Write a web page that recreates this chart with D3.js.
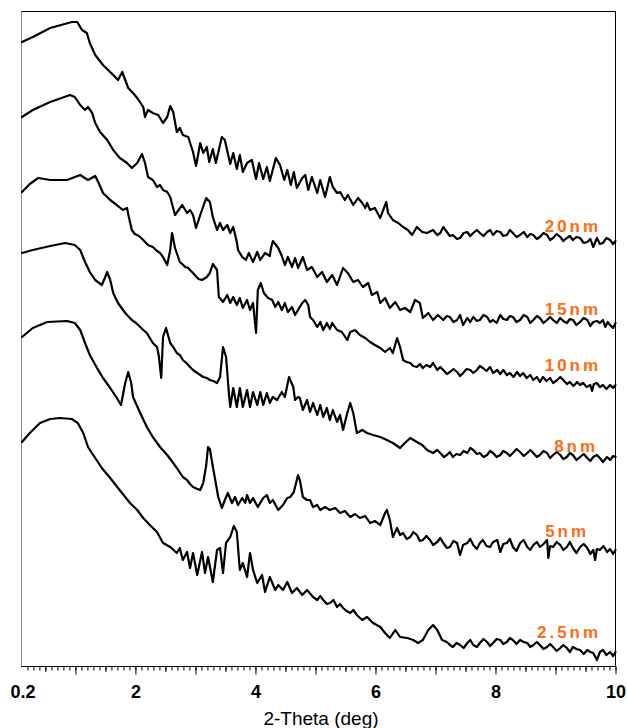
<!DOCTYPE html>
<html>
<head>
<meta charset="utf-8">
<script src="https://cdn.jsdelivr.net/npm/d3@7"></script>
<style>
  body { margin: 0; background: #fff; }
  text { font-family: "Liberation Sans", Arial, Helvetica, sans-serif; }
</style>
</head>
<body>
<div id="chart"></div>
<script>

// sample names, top to bottom
var sampleLabels = ["20nm", "15nm", "10nm", "8nm", "5nm", "2.5nm"];

// [2-theta (deg), intensity (a.u., stacked offset included)]
var s20nm = [[0.11,624],[0.29,629],[0.58,638],[0.94,644],[1.03,644],[1.11,636],[1.19,633],[1.24,623],[1.33,611],[1.46,601],[1.63,591],[1.71,586],[1.78,594],[1.83,586],[1.88,578],[1.96,573],[2.03,568],[2.13,559],[2.16,549],[2.21,556],[2.29,553],[2.38,551],[2.46,543],[2.53,549],[2.58,560],[2.63,554],[2.69,534],[2.74,538],[2.79,531],[2.88,529],[2.96,514],[3.01,500],[3.08,523],[3.13,513],[3.19,519],[3.23,504],[3.29,517],[3.34,503],[3.44,529],[3.49,526],[3.58,502],[3.63,513],[3.69,497],[3.74,511],[3.79,494],[3.86,503],[3.94,506],[4.01,487],[4.06,503],[4.13,487],[4.19,499],[4.24,485],[4.34,508],[4.41,501],[4.48,486],[4.53,496],[4.59,481],[4.64,494],[4.69,478],[4.78,488],[4.83,491],[4.88,476],[4.94,489],[5.03,473],[5.08,486],[5.16,469],[5.24,489],[5.29,479],[5.36,473],[5.41,474],[5.49,466],[5.54,471],[5.63,461],[5.71,468],[5.78,463],[5.83,458],[5.86,463],[5.91,456],[5.99,458],[6.08,448],[6.11,453],[6.18,464],[6.21,453],[6.29,446],[6.38,443],[6.46,439],[6.54,436],[6.61,431],[6.69,439],[6.78,434],[6.86,433],[6.96,436],[7.03,431],[7.08,433],[7.13,439],[7.19,434],[7.24,430],[7.29,431],[7.36,427],[7.41,428],[7.47,433],[7.53,434],[7.58,430],[7.63,433],[7.69,436],[7.74,433],[7.8,430],[7.86,434],[7.91,436],[7.96,431],[8.02,435],[8.08,434],[8.13,430],[8.19,431],[8.24,436],[8.29,433],[8.35,429],[8.41,431],[8.47,434],[8.53,429],[8.58,432],[8.63,431],[8.69,427],[8.74,429],[8.8,433],[8.86,431],[8.91,426],[8.96,428],[9.02,432],[9.08,429],[9.13,425],[9.19,428],[9.24,430],[9.29,426],[9.35,429],[9.41,428],[9.47,423],[9.53,424],[9.58,427],[9.63,419],[9.69,428],[9.74,422],[9.79,423],[9.85,428],[9.91,426],[9.96,422],[10,425]];

var s15nm = [[0.11,549],[0.29,556],[0.58,564],[0.91,571],[0.99,569],[1.08,561],[1.16,556],[1.21,559],[1.28,553],[1.33,543],[1.41,534],[1.53,526],[1.63,516],[1.74,508],[1.86,503],[1.94,498],[2.03,503],[2.11,512],[2.16,503],[2.21,489],[2.29,486],[2.36,479],[2.41,481],[2.46,476],[2.53,474],[2.58,469],[2.66,451],[2.78,461],[2.86,453],[2.91,456],[2.96,451],[3.01,438],[3.08,451],[3.18,468],[3.24,464],[3.29,449],[3.36,436],[3.41,443],[3.46,436],[3.53,441],[3.58,433],[3.63,439],[3.69,424],[3.71,416],[3.78,409],[3.84,406],[3.89,413],[3.96,404],[4.03,414],[4.08,406],[4.16,413],[4.24,410],[4.26,418],[4.29,425],[4.33,422],[4.38,418],[4.44,410],[4.49,401],[4.54,409],[4.61,399],[4.66,408],[4.71,398],[4.79,409],[4.86,396],[4.94,399],[5.03,389],[5.11,394],[5.19,384],[5.28,391],[5.36,381],[5.46,398],[5.54,393],[5.63,384],[5.71,386],[5.79,379],[5.88,383],[5.94,371],[6.03,374],[6.08,363],[6.16,368],[6.24,358],[6.33,364],[6.41,356],[6.49,358],[6.58,354],[6.66,366],[6.74,363],[6.79,348],[6.88,353],[6.96,346],[7.04,351],[7.13,346],[7.19,350],[7.24,349],[7.3,344],[7.36,346],[7.41,351],[7.46,341],[7.53,348],[7.58,344],[7.63,349],[7.69,345],[7.74,346],[7.8,351],[7.86,349],[7.91,344],[7.96,346],[8.02,343],[8.08,351],[8.13,347],[8.19,346],[8.24,350],[8.29,349],[8.35,344],[8.41,346],[8.47,351],[8.53,349],[8.58,343],[8.63,346],[8.69,350],[8.74,348],[8.8,343],[8.86,346],[8.91,349],[8.96,346],[9.02,343],[9.08,348],[9.13,345],[9.19,343],[9.24,347],[9.29,346],[9.35,341],[9.41,344],[9.47,348],[9.53,346],[9.58,340],[9.63,344],[9.69,345],[9.74,343],[9.79,346],[9.83,339],[9.87,344],[9.91,341],[9.96,338],[10,343]];

var s10nm = [[0.11,474],[0.24,482],[0.38,488],[0.58,486],[0.86,486],[1.08,491],[1.13,489],[1.21,486],[1.33,490],[1.38,484],[1.46,473],[1.58,466],[1.69,461],[1.79,456],[1.86,458],[1.89,449],[1.94,436],[1.99,432],[2.06,430],[2.13,426],[2.21,421],[2.29,419],[2.36,415],[2.41,413],[2.46,409],[2.53,401],[2.58,416],[2.61,433],[2.66,418],[2.74,404],[2.78,402],[2.83,399],[2.88,398],[2.91,396],[2.96,393],[2.99,391],[3.05,387],[3.11,386],[3.19,389],[3.24,393],[3.29,402],[3.36,396],[3.39,369],[3.46,364],[3.53,371],[3.58,363],[3.63,369],[3.69,361],[3.74,368],[3.79,358],[3.86,366],[3.91,356],[3.96,363],[4.01,333],[4.04,376],[4.09,383],[4.14,373],[4.21,368],[4.28,366],[4.33,359],[4.38,364],[4.44,356],[4.49,363],[4.54,354],[4.61,359],[4.66,351],[4.71,356],[4.78,363],[4.83,366],[4.88,361],[4.91,349],[4.96,346],[5.03,339],[5.08,344],[5.13,336],[5.19,343],[5.24,337],[5.28,343],[5.36,336],[5.44,334],[5.53,326],[5.58,334],[5.66,336],[5.74,331],[5.83,328],[5.91,324],[5.99,321],[6.08,318],[6.16,314],[6.24,318],[6.29,313],[6.36,328],[6.41,319],[6.46,306],[6.52,304],[6.58,303],[6.63,300],[6.69,299],[6.74,302],[6.79,298],[6.85,301],[6.91,299],[6.96,303],[7.03,296],[7.08,299],[7.13,296],[7.19,292],[7.24,294],[7.3,297],[7.36,294],[7.41,290],[7.46,293],[7.52,297],[7.58,296],[7.63,293],[7.69,296],[7.74,300],[7.79,298],[7.85,295],[7.91,299],[7.96,293],[8.03,296],[8.08,292],[8.13,296],[8.19,291],[8.24,293],[8.3,289],[8.36,294],[8.41,290],[8.46,293],[8.52,288],[8.58,291],[8.63,286],[8.69,289],[8.74,284],[8.79,289],[8.85,285],[8.91,288],[8.96,283],[9.03,286],[9.08,289],[9.13,286],[9.19,282],[9.24,284],[9.3,280],[9.36,284],[9.41,281],[9.46,283],[9.52,279],[9.58,281],[9.61,275],[9.64,282],[9.69,283],[9.74,279],[9.79,281],[9.85,277],[9.91,281],[9.96,278],[10,281]];

var s8nm = [[0.11,413],[0.29,416],[0.58,420],[0.83,423],[0.99,421],[1.08,416],[1.16,404],[1.24,394],[1.33,386],[1.44,381],[1.49,388],[1.53,394],[1.58,386],[1.63,373],[1.71,363],[1.83,353],[1.94,346],[2.01,343],[2.08,339],[2.13,336],[2.19,333],[2.24,328],[2.29,323],[2.36,319],[2.39,310],[2.43,288],[2.46,329],[2.51,338],[2.58,323],[2.64,318],[2.69,313],[2.74,311],[2.79,306],[2.85,303],[2.91,299],[2.96,296],[3.03,293],[3.08,291],[3.13,289],[3.19,288],[3.24,286],[3.3,285],[3.36,283],[3.41,289],[3.46,319],[3.51,309],[3.56,271],[3.58,259],[3.63,278],[3.69,259],[3.74,278],[3.79,259],[3.86,276],[3.91,259],[3.96,274],[4.03,261],[4.08,274],[4.13,261],[4.19,273],[4.24,263],[4.29,269],[4.36,266],[4.44,274],[4.49,269],[4.56,289],[4.63,279],[4.66,266],[4.71,269],[4.74,268],[4.79,256],[4.86,266],[4.91,254],[4.96,263],[5.03,251],[5.08,261],[5.13,249],[5.19,258],[5.24,246],[5.29,256],[5.36,244],[5.41,251],[5.46,236],[5.53,253],[5.58,263],[5.63,253],[5.69,233],[5.78,236],[5.86,233],[5.96,231],[6.08,229],[6.19,226],[6.29,223],[6.41,218],[6.49,223],[6.58,228],[6.69,224],[6.78,221],[6.86,216],[6.96,213],[7.03,216],[7.08,213],[7.14,209],[7.19,211],[7.24,214],[7.29,209],[7.35,212],[7.41,211],[7.47,215],[7.53,213],[7.58,218],[7.63,216],[7.69,212],[7.74,213],[7.8,209],[7.86,211],[7.91,215],[7.96,213],[8.02,209],[8.08,211],[8.13,215],[8.19,213],[8.24,210],[8.29,213],[8.35,217],[8.41,214],[8.47,210],[8.53,213],[8.58,216],[8.63,213],[8.69,209],[8.74,211],[8.8,215],[8.86,213],[8.91,208],[8.96,211],[9.02,214],[9.08,211],[9.13,207],[9.19,209],[9.24,213],[9.29,211],[9.35,206],[9.41,209],[9.47,212],[9.53,208],[9.58,205],[9.63,209],[9.69,211],[9.74,208],[9.79,204],[9.86,209],[9.91,206],[9.96,210],[10,209]];

var s5nm = [[0.11,329],[0.29,338],[0.53,344],[0.86,345],[0.99,343],[1.08,336],[1.16,323],[1.24,311],[1.36,298],[1.46,288],[1.58,278],[1.69,268],[1.76,261],[1.83,283],[1.88,294],[1.93,283],[1.96,269],[2.08,253],[2.19,239],[2.29,229],[2.41,219],[2.53,211],[2.63,203],[2.69,198],[2.79,189],[2.86,186],[2.91,182],[2.96,179],[3.03,177],[3.08,176],[3.13,183],[3.18,201],[3.21,219],[3.24,217],[3.28,203],[3.33,186],[3.38,169],[3.44,158],[3.49,166],[3.54,173],[3.61,163],[3.66,169],[3.71,161],[3.78,168],[3.83,163],[3.86,171],[3.91,163],[3.96,168],[4.04,159],[4.13,168],[4.19,171],[4.24,163],[4.29,166],[4.38,156],[4.46,161],[4.53,168],[4.58,169],[4.64,174],[4.71,191],[4.74,186],[4.79,169],[4.86,166],[4.91,166],[4.96,159],[5.03,161],[5.08,156],[5.16,159],[5.24,156],[5.33,158],[5.41,153],[5.49,155],[5.58,149],[5.66,152],[5.74,148],[5.83,150],[5.91,143],[5.99,145],[6.08,141],[6.16,153],[6.19,156],[6.24,146],[6.29,129],[6.36,138],[6.41,131],[6.46,133],[6.52,127],[6.58,129],[6.63,134],[6.69,131],[6.74,125],[6.79,126],[6.85,130],[6.91,126],[6.96,121],[7.03,124],[7.08,128],[7.13,123],[7.19,118],[7.24,119],[7.3,125],[7.36,123],[7.41,111],[7.46,121],[7.53,123],[7.58,127],[7.63,121],[7.69,117],[7.74,123],[7.79,126],[7.85,120],[7.91,119],[7.96,124],[8.03,126],[8.08,114],[8.13,122],[8.19,123],[8.24,127],[8.29,119],[8.35,115],[8.41,123],[8.47,126],[8.53,119],[8.58,116],[8.63,121],[8.69,124],[8.74,119],[8.8,122],[8.86,126],[8.88,108],[8.91,120],[8.96,119],[9.02,124],[9.08,121],[9.13,116],[9.19,119],[9.24,124],[9.29,118],[9.35,113],[9.41,119],[9.47,122],[9.53,118],[9.58,112],[9.63,116],[9.66,106],[9.69,117],[9.74,116],[9.8,120],[9.86,114],[9.91,117],[9.96,112],[10,116]];

var s2_5nm = [[0.11,224],[0.24,233],[0.41,243],[0.58,247],[0.74,248],[0.94,247],[1.04,243],[1.13,233],[1.21,219],[1.33,208],[1.44,198],[1.58,188],[1.71,178],[1.83,169],[1.91,163],[2.03,156],[2.13,148],[2.24,141],[2.36,134],[2.46,123],[2.58,119],[2.69,113],[2.74,118],[2.79,106],[2.86,114],[2.91,98],[2.96,113],[3.03,91],[3.11,114],[3.16,93],[3.21,109],[3.29,84],[3.36,116],[3.41,118],[3.46,93],[3.51,123],[3.58,129],[3.64,140],[3.69,134],[3.74,96],[3.79,103],[3.86,89],[3.91,113],[3.96,96],[4.03,83],[4.11,91],[4.16,74],[4.24,89],[4.33,76],[4.38,81],[4.46,76],[4.53,84],[4.61,73],[4.69,78],[4.78,71],[4.86,76],[4.96,69],[5.03,66],[5.08,70],[5.13,66],[5.19,62],[5.24,63],[5.3,66],[5.36,59],[5.41,62],[5.46,58],[5.52,55],[5.58,53],[5.63,56],[5.69,51],[5.78,46],[5.86,49],[5.96,43],[6.08,39],[6.16,33],[6.24,28],[6.33,36],[6.41,29],[6.53,28],[6.63,26],[6.71,23],[6.79,26],[6.88,36],[6.96,41],[7.03,36],[7.11,26],[7.19,24],[7.24,21],[7.29,19],[7.35,23],[7.41,21],[7.47,18],[7.53,23],[7.58,26],[7.63,21],[7.69,19],[7.74,23],[7.8,27],[7.86,24],[7.91,20],[7.96,23],[8.02,27],[8.08,26],[8.13,22],[8.19,24],[8.24,28],[8.29,26],[8.35,22],[8.41,26],[8.47,24],[8.53,23],[8.58,19],[8.63,21],[8.69,24],[8.74,21],[8.8,17],[8.86,19],[8.91,22],[8.96,19],[9.02,15],[9.08,18],[9.13,21],[9.19,18],[9.24,14],[9.29,19],[9.35,17],[9.41,16],[9.47,12],[9.53,16],[9.58,14],[9.63,13],[9.69,6],[9.74,14],[9.79,16],[9.85,11],[9.91,14],[9.96,10],[10,14]];

// where each sample name ends, in data units
var labelAt = [[9.76,434],[9.76,351],[9.76,295],[9.71,214],[9.56,129],[9.76,28]];

// x tick labels
var xTickValues = [0.2, 2, 4, 6, 8, 10];
var xTickLabels = ["0.2", "2", "4", "6", "8", "10"];

var series = [s20nm, s15nm, s10nm, s8nm, s5nm, s2_5nm];

var W = 627, H = 728;
var plot = { left: 22, right: 615.5, top: 11, bottom: 666 };

var x = d3.scaleLinear().domain([0.11, 10]).range([plot.left, plot.right]);
var y = d3.scaleLinear().domain([0, 655]).range([plot.bottom, plot.top]);

var svg = d3.select('#chart').append('svg')
    .attr('width', W)
    .attr('height', H);

// ticks: minor every 0.1, medium at .5, major at integers
var minorTicks = d3.range(2, 101).map(function (i) { return i / 10; });
var midTicks = d3.range(0.5, 10, 1);
var majorTicks = d3.range(1, 11);

function tickLayer(vals, size) {
    var g = svg.append('g')
        .attr('class', 'x axis')
        .attr('transform', 'translate(0,' + (plot.bottom + 0.5) + ')')
        .call(d3.axisBottom(x).tickValues(vals).tickSize(size).tickFormat(''));
    g.select('.domain').remove();
    g.selectAll('line').attr('stroke', '#000');
    return g;
}
tickLayer(minorTicks, 4);
tickLayer(midTicks, 5.5);
tickLayer(majorTicks, 8);

// tick labels
var labelAxis = svg.append('g')
    .attr('transform', 'translate(0,' + plot.bottom + ')')
    .call(d3.axisBottom(x).tickValues(xTickValues).tickSize(0)
        .tickFormat(function (d, i) { return xTickLabels[i]; }));
labelAxis.select('.domain').remove();
labelAxis.selectAll('text')
    .attr('y', 32)
    .attr('dy', 0)
    .attr('fill', '#000')
    .style('font-size', '18px')
    .style('font-weight', 'bold')
    .style('font-family', '"Liberation Sans", Arial, sans-serif');
// first label is pushed to the frame corner
labelAxis.selectAll('.tick').filter(function (d) { return d === 0.2; })
    .select('text').attr('x', -5);

svg.append('text')
    .attr('x', 321)
    .attr('y', 725)
    .attr('text-anchor', 'middle')
    .style('font-size', '19px')
    .text('2-Theta (deg)');

// frame
svg.append('line').attr('x1', 21.5).attr('x2', 21.5).attr('y1', plot.top).attr('y2', plot.bottom + 1)
    .attr('stroke', '#888').attr('stroke-width', 1);
svg.append('line').attr('x1', 21.5).attr('x2', 615.5).attr('y1', 11.5).attr('y2', 11.5)
    .attr('stroke', '#000').attr('stroke-width', 1);
svg.append('line').attr('x1', 615.5).attr('x2', 615.5).attr('y1', 11).attr('y2', plot.bottom + 1)
    .attr('stroke', '#000').attr('stroke-width', 1);
svg.append('line').attr('x1', 21.5).attr('x2', 616).attr('y1', plot.bottom + 0.5).attr('y2', plot.bottom + 0.5)
    .attr('stroke', '#000').attr('stroke-width', 1);

// patterns
var line = d3.line()
    .x(function (d) { return x(d[0]); })
    .y(function (d) { return y(d[1]); });

svg.append('g')
    .attr('class', 'series')
    .selectAll('path')
    .data(series)
    .enter().append('path')
    .attr('d', line)
    .attr('fill', 'none')
    .attr('stroke', '#000')
    .attr('stroke-width', 2.2)
    .attr('stroke-linejoin', 'round')
    .attr('stroke-linecap', 'round');

// sample names
svg.append('g')
    .selectAll('text')
    .data(sampleLabels)
    .enter().append('text')
    .attr('x', function (d, i) { return x(labelAt[i][0]); })
    .attr('y', function (d, i) { return y(labelAt[i][1]); })
    .attr('text-anchor', 'end')
    .attr('fill', '#ff6a13')
    .style('font-size', '17px')
    .style('font-weight', 'bold')
    .style('letter-spacing', '3px')
    .text(function (d) { return d; });

</script>
</body>
</html>
